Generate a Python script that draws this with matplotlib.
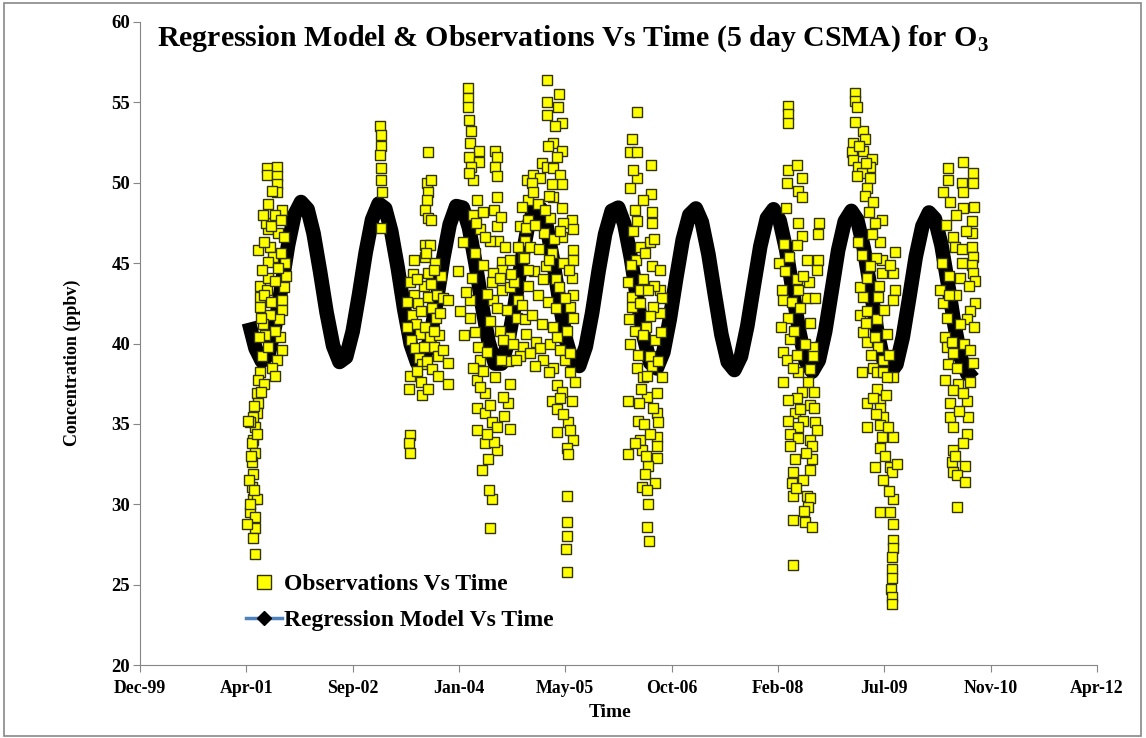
import numpy as np
import pandas as pd
import matplotlib
matplotlib.use("Agg")
import matplotlib.pyplot as plt
import matplotlib.dates as mdates
from matplotlib.lines import Line2D
from matplotlib.patches import Rectangle

plt.rcParams['font.family'] = ['Liberation Serif', 'DejaVu Serif']
plt.rcParams['font.weight'] = 'bold'

# ---- data ----
# observations: (decimal year, ppbv), grouped by the periods with data
obs_2001 = [(2001.56, 50.9), (2001.69, 51.0), (2001.56, 50.5), (2001.69, 50.4), (2001.69, 49.9), (2001.69, 49.4),
            (2001.58, 48.7), (2001.76, 48.3), (2001.58, 47.1), (2001.71, 46.9), (2001.45, 45.8), (2001.60, 46.0),
            (2001.64, 45.4), (2001.58, 45.1), (2001.47, 43.6), (2001.58, 44.1), (2001.47, 42.9), (2001.56, 43.3),
            (2001.47, 42.3), (2001.76, 42.7), (2001.76, 42.1), (2001.73, 40.4), (2001.76, 39.6), (2001.69, 39.0),
            (2001.63, 38.5), (2001.50, 39.2), (2001.47, 38.2), (2001.45, 37.7), (2001.44, 36.9), (2001.45, 36.3),
            (2001.44, 35.7), (2001.38, 35.4), (2001.41, 34.8), (2001.35, 35.1), (2001.38, 34.0), (2001.37, 33.8),
            (2001.41, 33.2), (2001.37, 32.6), (2001.38, 31.9), (2001.37, 31.1), (2001.38, 30.3), (2001.44, 30.3),
            (2001.35, 29.5), (2001.41, 29.2), (2001.41, 28.5), (2001.38, 27.9), (2001.41, 26.9), (2001.80, 45.0),
            (2001.81, 44.2), (2001.78, 43.5), (2001.72, 41.5), (2001.67, 40.8), (2001.60, 41.8), (2001.54, 40.5),
            (2001.51, 41.2), (2001.55, 47.5), (2001.51, 48.0), (2001.67, 48.0), (2001.63, 49.5), (2001.53, 37.5),
            (2001.32, 35.2), (2001.33, 31.5), (2001.31, 28.8), (2001.50, 44.6), (2001.53, 43.0), (2001.61, 42.6),
            (2001.66, 43.9), (2001.71, 44.7), (2001.74, 45.6), (2001.62, 47.3), (2001.52, 46.3), (2001.48, 41.6),
            (2001.46, 40.4), (2001.57, 39.8), (2001.66, 38.0), (2001.78, 46.6), (2001.75, 47.7), (2001.48, 37.0),
            (2001.43, 34.4), (2001.36, 33.0), (2001.40, 30.9), (2001.34, 30.0), (2001.39, 36.1)]

obs_2003a = [(2003.02, 53.5), (2003.03, 53.0), (2003.03, 52.3), (2003.02, 51.7), (2003.03, 50.9), (2003.03, 50.2),
             (2003.04, 49.4), (2003.03, 47.2)]

obs_2003b = [(2003.64, 51.9), (2003.62, 50.0), (2003.64, 49.4), (2003.62, 48.9), (2003.60, 48.3), (2003.64, 47.8),
             (2003.60, 46.1), (2003.66, 46.1), (2003.60, 45.4), (2003.44, 44.3), (2003.64, 44.4), (2003.41, 43.8),
             (2003.46, 43.0), (2003.51, 42.5), (2003.43, 41.8), (2003.48, 41.2), (2003.53, 40.6), (2003.42, 40.2),
             (2003.47, 39.7), (2003.52, 39.1), (2003.59, 43.6), (2003.64, 42.9), (2003.69, 42.2), (2003.74, 41.6),
             (2003.60, 41.0), (2003.66, 40.4), (2003.71, 39.8), (2003.77, 39.2), (2003.56, 38.7), (2003.62, 38.9),
             (2003.69, 38.4), (2003.75, 43.0), (2003.79, 41.9), (2003.78, 40.5), (2003.80, 44.2), (2003.73, 45.0),
             (2003.41, 38.0), (2003.39, 37.2), (2003.56, 36.8), (2003.41, 34.3), (2003.39, 33.8), (2003.41, 33.2),
             (2003.67, 50.2), (2003.67, 47.7), (2003.36, 41.0), (2003.37, 42.6), (2003.45, 45.2), (2003.50, 44.0),
             (2003.55, 42.0), (2003.58, 39.8), (2003.68, 43.7), (2003.72, 40.8), (2003.76, 38.0), (2003.83, 42.8),
             (2003.49, 38.3), (2003.54, 37.6), (2003.63, 37.2), (2003.71, 44.6), (2003.61, 45.6)]

obs_2004 = [(2004.15, 55.9), (2004.15, 55.3), (2004.15, 54.7), (2004.16, 53.9), (2004.19, 53.2), (2004.18, 52.5),
            (2004.29, 52.0), (2004.16, 51.6), (2004.29, 51.3), (2004.19, 51.0), (2004.22, 50.2), (2004.16, 50.6),
            (2004.50, 52.0), (2004.53, 51.6), (2004.50, 51.0), (2004.53, 50.4), (2004.53, 49.1), (2004.49, 48.3),
            (2004.53, 47.3), (2004.54, 46.4), (2004.44, 46.4), (2004.27, 48.9), (2004.22, 48.0), (2004.09, 46.3),
            (2004.31, 47.1), (2004.37, 46.6), (2004.59, 45.1), (2004.69, 45.2), (2004.59, 44.6), (2004.47, 44.4),
            (2004.46, 43.8), (2004.20, 44.1), (2004.59, 43.3), (2004.69, 43.5), (2004.80, 42.7), (2004.47, 42.7),
            (2004.18, 42.7), (2004.65, 42.1), (2004.78, 41.6), (2004.89, 41.5), (2004.18, 41.6), (2004.24, 40.7),
            (2004.56, 40.8), (2004.69, 40.4), (2004.86, 39.8), (2004.28, 39.8), (2004.60, 40.2), (2004.31, 39.0),
            (2004.82, 39.2), (2004.82, 47.3), (2004.91, 50.2), (2004.92, 48.9), (2004.89, 46.4), (2004.80, 46.0),
            (2004.92, 47.7), (2004.86, 45.4), (2004.27, 37.7), (2004.37, 36.9), (2004.27, 36.0), (2004.37, 35.7),
            (2004.46, 35.1), (2004.53, 34.8), (2004.27, 34.6), (2004.37, 33.8), (2004.53, 33.4), (2004.69, 37.5),
            (2004.67, 36.3), (2004.69, 34.7), (2004.31, 37.3), (2004.60, 36.7), (2004.44, 28.5), (2004.46, 30.3),
            (2004.42, 30.9), (2004.33, 32.1), (2004.41, 32.8), (2003.89, 42.7), (2003.83, 39.6), (2003.89, 38.8),
            (2003.89, 37.5), (2004.02, 44.5), (2004.05, 42.0), (2004.10, 40.5), (2004.13, 43.2), (2004.24, 45.6),
            (2004.34, 44.9), (2004.40, 43.1), (2004.43, 41.4), (2004.52, 42.2), (2004.56, 44.1), (2004.63, 46.0),
            (2004.66, 38.9), (2004.73, 40.0), (2004.75, 43.8), (2004.39, 39.5), (2004.35, 38.3), (2004.50, 37.9),
            (2004.57, 39.0), (2004.62, 35.5), (2004.44, 36.2), (2004.25, 47.5), (2004.35, 48.2), (2004.58, 47.9),
            (2004.71, 44.3), (2004.77, 39.0), (2004.48, 33.9), (2004.39, 34.4), (2004.21, 38.5)]

obs_2005 = [(2005.17, 56.4), (2005.32, 55.5), (2005.17, 55.0), (2005.31, 54.7), (2005.17, 54.2), (2005.36, 53.7),
            (2005.27, 53.5), (2005.25, 52.5), (2005.18, 52.3), (2005.36, 52.0), (2005.10, 51.2), (2005.17, 51.0),
            (2005.25, 50.9), (2004.99, 50.5), (2005.08, 50.3), (2005.34, 50.5), (2005.36, 49.9), (2005.23, 49.9),
            (2004.98, 50.0), (2004.99, 49.4), (2005.25, 49.1), (2005.36, 48.4), (2005.49, 47.7), (2005.37, 47.5),
            (2005.50, 47.1), (2005.36, 46.6), (2005.50, 45.8), (2005.50, 45.2), (2005.49, 44.1), (2005.50, 43.0),
            (2005.47, 42.3), (2005.50, 41.6), (2004.85, 48.5), (2004.90, 47.2), (2004.95, 46.0), (2004.87, 45.3),
            (2005.00, 44.5), (2004.92, 43.6), (2005.05, 43.0), (2004.85, 42.4), (2004.98, 41.8), (2005.10, 41.2),
            (2004.90, 40.6), (2005.03, 40.1), (2005.16, 44.8), (2005.13, 46.9), (2005.21, 47.8), (2005.05, 48.7),
            (2005.18, 42.6), (2005.23, 45.6), (2005.28, 44.0), (2005.08, 39.7), (2004.95, 39.4), (2005.25, 41.0),
            (2005.21, 40.0), (2005.30, 40.4), (2005.34, 39.6), (2005.25, 38.5), (2005.30, 37.4), (2005.23, 36.4),
            (2005.30, 35.9), (2005.49, 36.4), (2005.30, 34.5), (2005.44, 35.1), (2005.50, 34.0), (2005.43, 33.5),
            (2005.44, 33.1), (2005.40, 39.0), (2005.47, 38.2), (2005.53, 37.6), (2005.36, 37.0), (2005.43, 30.5),
            (2005.43, 28.9), (2005.43, 28.0), (2005.41, 27.2), (2005.43, 25.8), (2005.01, 47.4), (2005.06, 45.9),
            (2005.12, 44.0), (2005.14, 48.3), (2005.19, 49.2), (2005.20, 45.2), (2005.26, 46.5), (2005.28, 42.2),
            (2005.32, 43.5), (2005.33, 47.0), (2005.38, 45.0), (2005.40, 42.8), (2005.42, 40.8), (2005.45, 44.6),
            (2005.46, 39.4), (2005.12, 39.0), (2005.19, 38.2), (2005.33, 36.6), (2005.38, 35.6), (2005.47, 34.6),
            (2005.02, 38.6), (2004.93, 44.6), (2005.30, 51.6)]

obs_2006 = [(2006.33, 54.4), (2006.26, 52.7), (2006.24, 51.9), (2006.33, 51.9), (2006.51, 51.1), (2006.33, 50.3),
            (2006.24, 49.7), (2006.51, 49.3), (2006.30, 48.3), (2006.52, 48.2), (2006.33, 47.6), (2006.52, 47.5),
            (2006.49, 46.3), (2006.52, 44.8), (2006.62, 44.6), (2006.21, 43.8), (2006.40, 44.0), (2006.62, 43.3),
            (2006.65, 42.8), (2006.62, 41.9), (2006.26, 42.9), (2006.26, 42.3), (2006.37, 42.5), (2006.53, 42.3),
            (2006.30, 40.8), (2006.24, 40.0), (2006.56, 40.2), (2006.34, 39.3), (2006.49, 39.2), (2006.33, 38.5),
            (2006.40, 37.9), (2006.65, 37.9), (2006.21, 36.4), (2006.46, 36.7), (2006.58, 36.9), (2006.34, 35.2),
            (2006.58, 35.7), (2006.60, 35.1), (2006.37, 34.0), (2006.58, 34.2), (2006.21, 33.1), (2006.39, 33.4),
            (2006.58, 33.6), (2006.58, 32.9), (2006.47, 32.4), (2006.43, 31.9), (2006.39, 31.1), (2006.56, 31.3),
            (2006.46, 30.9), (2006.47, 30.0), (2006.46, 28.6), (2006.48, 27.7), (2006.37, 46.0), (2006.31, 45.2),
            (2006.43, 45.6), (2006.44, 41.0), (2006.38, 37.2), (2006.52, 38.6), (2006.22, 41.5), (2006.25, 44.9),
            (2006.28, 47.0), (2006.36, 43.3), (2006.41, 40.5), (2006.45, 38.0), (2006.50, 41.7), (2006.54, 46.5),
            (2006.55, 43.6), (2006.60, 38.9), (2006.63, 40.7), (2006.35, 36.3), (2006.42, 35.0), (2006.50, 34.4),
            (2006.53, 36.0), (2006.30, 33.8), (2006.44, 33.0), (2006.28, 50.8), (2006.40, 48.9), (2006.47, 43.3)]

obs_2008 = [(2008.27, 54.8), (2008.27, 54.3), (2008.27, 53.7), (2008.27, 50.8), (2008.39, 51.1), (2008.45, 50.3),
            (2008.26, 50.0), (2008.40, 49.5), (2008.45, 49.1), (2008.40, 47.5), (2008.67, 47.5), (2008.45, 46.7),
            (2008.66, 46.8), (2008.39, 46.1), (2008.52, 45.2), (2008.66, 45.2), (2008.64, 44.6), (2008.54, 43.8),
            (2008.52, 42.8), (2008.19, 43.3), (2008.21, 42.7), (2008.39, 44.0), (2008.40, 43.3), (2008.27, 41.6),
            (2008.55, 41.3), (2008.30, 40.3), (2008.21, 39.5), (2008.26, 39.0), (2008.39, 39.3), (2008.59, 39.8),
            (2008.59, 39.2), (2008.21, 37.6), (2008.40, 38.2), (2008.53, 37.6), (2008.45, 37.0), (2008.39, 36.6),
            (2008.55, 36.2), (2008.27, 36.5), (2008.36, 35.7), (2008.27, 35.2), (2008.46, 35.2), (2008.62, 35.1),
            (2008.64, 34.6), (2008.40, 34.8), (2008.30, 34.4), (2008.40, 34.1), (2008.55, 34.0), (2008.30, 33.6),
            (2008.58, 33.6), (2008.36, 32.8), (2008.58, 32.8), (2008.34, 32.0), (2008.55, 32.1), (2008.32, 31.3),
            (2008.46, 31.5), (2008.34, 30.5), (2008.52, 30.5), (2008.55, 30.4), (2008.53, 29.8), (2008.34, 29.0),
            (2008.49, 28.9), (2008.58, 28.6), (2008.34, 26.2), (2008.16, 45.0), (2008.18, 41.0), (2008.23, 44.5),
            (2008.22, 46.2), (2008.24, 48.4), (2008.29, 45.4), (2008.32, 42.6), (2008.35, 40.8), (2008.42, 42.2),
            (2008.47, 44.2), (2008.49, 40.0), (2008.56, 38.4), (2008.61, 37.0), (2008.62, 42.8), (2008.33, 38.5),
            (2008.43, 35.9), (2008.50, 33.2), (2008.37, 31.0), (2008.48, 29.6), (2008.60, 36.0)]

obs_2009 = [(2009.13, 55.6), (2009.13, 55.1), (2009.16, 54.7), (2009.24, 53.2), (2009.26, 52.7), (2009.11, 52.5),
            (2009.10, 51.9), (2009.24, 52.0), (2009.35, 51.5), (2009.33, 51.0), (2009.11, 51.4), (2009.17, 51.0),
            (2009.22, 50.6), (2009.33, 50.3), (2009.29, 49.7), (2009.16, 50.4), (2009.26, 49.2), (2009.37, 48.8),
            (2009.48, 47.7), (2009.39, 47.5), (2009.46, 46.3), (2009.65, 45.7), (2009.48, 45.2), (2009.17, 46.3),
            (2009.22, 45.5), (2009.62, 44.4), (2009.48, 44.4), (2009.65, 43.3), (2009.62, 42.7), (2009.20, 43.5),
            (2009.29, 44.1), (2009.24, 42.9), (2009.43, 42.9), (2009.20, 41.8), (2009.29, 42.0), (2009.42, 41.5),
            (2009.24, 40.7), (2009.29, 40.1), (2009.39, 40.4), (2009.43, 39.8), (2009.49, 39.0), (2009.37, 38.5),
            (2009.62, 37.9), (2009.22, 38.2), (2009.42, 38.2), (2009.49, 38.2), (2009.42, 37.2), (2009.29, 36.3),
            (2009.46, 36.5), (2009.37, 36.6), (2009.46, 36.0), (2009.49, 35.4), (2009.29, 34.8), (2009.46, 34.9),
            (2009.48, 34.2), (2009.62, 34.2), (2009.46, 33.5), (2009.39, 32.3), (2009.58, 32.3), (2009.61, 32.0),
            (2009.49, 31.5), (2009.62, 30.3), (2009.46, 29.5), (2009.58, 29.5), (2009.62, 28.8), (2009.62, 27.8),
            (2009.62, 27.3), (2009.61, 26.7), (2009.61, 26.0), (2009.61, 25.4), (2009.60, 24.7), (2009.61, 24.2),
            (2009.61, 23.8), (2009.68, 32.5), (2009.14, 53.8), (2009.19, 52.3), (2009.28, 51.2), (2009.31, 48.2),
            (2009.35, 46.8), (2009.40, 45.3), (2009.44, 43.6), (2009.51, 42.1), (2009.54, 40.6), (2009.57, 39.3),
            (2009.33, 44.8), (2009.27, 41.3), (2009.34, 39.3), (2009.53, 36.8), (2009.56, 34.8), (2009.52, 33.0),
            (2009.57, 30.8), (2009.41, 35.6), (2009.59, 44.9), (2009.55, 37.9)]

obs_2010 = [(2010.52, 51.3), (2010.65, 50.6), (2010.65, 50.0), (2010.33, 50.9), (2010.33, 50.2), (2010.51, 50.0),
            (2010.52, 49.4), (2010.27, 49.4), (2010.36, 48.8), (2010.52, 48.4), (2010.64, 47.6), (2010.64, 46.9),
            (2010.40, 46.6), (2010.42, 46.0), (2010.51, 45.9), (2010.64, 46.0), (2010.65, 45.4), (2010.64, 44.9),
            (2010.65, 44.4), (2010.68, 43.9), (2010.51, 45.0), (2010.49, 44.1), (2010.23, 43.3), (2010.27, 42.5),
            (2010.68, 42.5), (2010.61, 42.0), (2010.58, 41.5), (2010.32, 41.6), (2010.29, 40.4), (2010.32, 39.8),
            (2010.38, 40.1), (2010.40, 39.4), (2010.65, 38.8), (2010.33, 38.7), (2010.45, 38.5), (2010.29, 37.7),
            (2010.46, 37.5), (2010.40, 37.1), (2010.36, 36.3), (2010.58, 36.4), (2010.59, 35.4), (2010.36, 35.4),
            (2010.40, 34.8), (2010.58, 34.4), (2010.52, 33.8), (2010.40, 33.4), (2010.38, 32.6), (2010.40, 32.0),
            (2010.55, 32.4), (2010.45, 31.8), (2010.55, 31.4), (2010.45, 29.8), (2010.25, 45.0), (2010.30, 47.4),
            (2010.35, 44.2), (2010.44, 43.0), (2010.48, 41.2), (2010.54, 40.0), (2010.60, 43.6), (2010.62, 39.6),
            (2010.66, 48.5), (2010.56, 47.0), (2010.43, 48.0), (2010.34, 43.0), (2010.47, 35.8), (2010.53, 36.9),
            (2010.42, 33.0), (2010.61, 37.6), (2010.67, 41.0)]

# regression model, value at the start of each month (May 2001 .. Sep 2010)
model_start = '2001-05-01'
model_end = '2010-09-01'
model_vals = [41.3, 39.7, 38.9, 39.3, 41.1, 43.5, 46.1, 48.0,                                 # 2001
              48.80, 48.35, 46.85, 44.45, 41.95, 39.85, 38.85, 39.15, 40.75, 43.05, 45.65, 47.70,  # 2002
              48.70, 48.40, 47.00, 44.70, 42.15, 39.95, 38.80, 38.95, 40.40, 42.65, 45.30, 47.40,  # 2003
              48.55, 48.45, 47.20, 44.95, 42.40, 40.10, 38.75, 38.75, 40.10, 42.30, 44.95, 47.15,  # 2004
              48.40, 48.40, 47.30, 45.10, 42.55, 40.20, 38.80, 38.60, 39.80, 41.90, 44.55, 46.80,  # 2005
              48.25, 48.45, 47.45, 45.35, 42.80, 40.40, 38.80, 38.45, 39.45, 41.50, 44.10, 46.45,  # 2006
              48.00, 48.40, 47.55, 45.55, 43.05, 40.55, 38.85, 38.35, 39.20, 41.10, 43.65, 46.05,  # 2007
              47.80, 48.35, 47.65, 45.80, 43.30, 40.75, 38.90, 38.25, 38.95, 40.75, 43.30, 45.80,  # 2008
              47.60, 48.25, 47.70, 45.90, 43.50, 40.90, 39.00, 38.15, 38.70, 40.40, 42.90, 45.40,  # 2009
              47.30, 48.15, 47.75, 46.10, 43.75, 41.15, 39.10, 38.10, 38.45]                     # 2010

# Excel date serials used for the time axis
x_ticks_serial = [36500, 37000, 37500, 38000, 38500, 39000, 39500, 40000, 40500, 41000]
y_ticks = [20, 25, 30, 35, 40, 45, 50, 55, 60]

title = r'Regression Model & Observations Vs Time (5 day CSMA) for O$_\mathregular{3}$'


def year_to_date(yrs):
    base = pd.Timestamp('2000-01-01')
    return base + pd.to_timedelta((np.asarray(yrs) - 2000.0) * 365.25, unit='D')


def serial_to_date(serials):
    return pd.Timestamp('1899-12-30') + pd.to_timedelta(np.asarray(serials), unit='D')


groups = [obs_2001, obs_2003a, obs_2003b, obs_2004, obs_2005, obs_2006, obs_2008, obs_2009, obs_2010]
obs = np.array([p for g in groups for p in g])
obs_dates = year_to_date(obs[:, 0])
obs_vals = obs[:, 1]

model_dates = pd.date_range(model_start, model_end, freq='MS')

fig = plt.figure(figsize=(11.46, 7.38), dpi=100)
ax = fig.add_axes([0.1222, 0.0989, 0.835, 0.8713])

ax.plot(model_dates, model_vals, color='black', lw=10.5, solid_joinstyle='round',
        solid_capstyle='butt', zorder=2)
ax.plot(obs_dates, obs_vals, ls='none', marker='s', ms=7.8, mfc='#FFFF00',
        mec='#333300', mew=1.0, zorder=3)

tick_dates = serial_to_date(x_ticks_serial)
ax.set_xlim(tick_dates[0], tick_dates[-1])
ax.set_xticks(tick_dates)
ax.xaxis.set_major_formatter(mdates.DateFormatter('%b-%y'))
ax.set_ylim(20, 60)
ax.set_yticks(y_ticks)

for s in ['top', 'right']:
    ax.spines[s].set_visible(False)
for s in ['left', 'bottom']:
    ax.spines[s].set_color('#868686')
ax.tick_params(direction='out', length=5, color='#868686', labelsize=12.8)
ax.tick_params(axis='y', labelsize=13.5, pad=2)
ax.tick_params(axis='x', pad=6)

fig.text(0.5, 0.948, title, ha='center', va='center', fontsize=21.5, weight='bold')
fig.text(0.063, 0.509, 'Concentration (ppbv)', rotation=90, ha='center', va='center',
         fontsize=13, weight='bold')
fig.text(0.532, 0.034, 'Time', ha='center', va='center', fontsize=14, weight='bold')

obs_handle = Line2D([], [], ls='none', marker='s', ms=10, mfc='#FFFF00', mec='#333300', mew=1.0)
model_handle = Line2D([], [], color='#4F81BD', lw=2.5, marker='D', ms=7.5, mfc='black', mec='black')
ax.legend([obs_handle, model_handle], ['Observations Vs Time', 'Regression Model Vs Time'],
          loc='upper left', bbox_to_anchor=(0.111, 0.142), frameon=False, fontsize=17,
          handlelength=1.5, handletextpad=0.1, labelspacing=0.62, borderpad=0, borderaxespad=0)

# chart area border
fig.patches.append(Rectangle((4 / 1146, 2 / 738), 1137 / 1146, 733 / 738, transform=fig.transFigure,
                             fill=False, ec='#878787', lw=1.2))

fig.savefig('out.png', dpi=100)
